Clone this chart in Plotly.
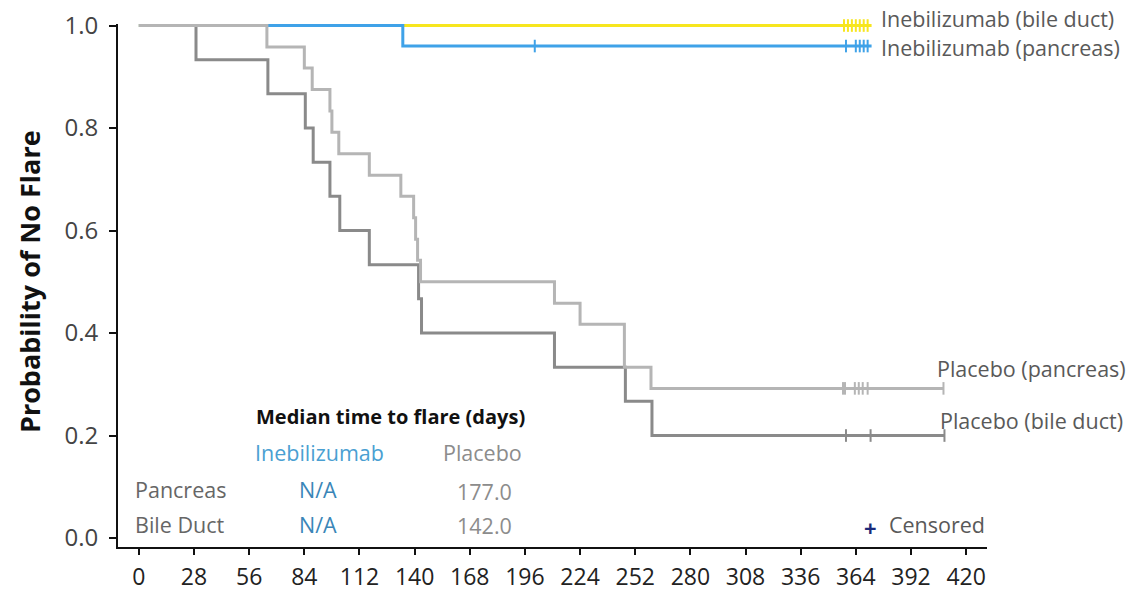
import plotly.graph_objects as go

# Kaplan-Meier step curves: time (days) and probability of no flare
ineb_bile_time = [0, 372]
ineb_bile_surv = [1.0, 1.0]
ineb_bile_censor = [358, 360, 362, 364, 366, 368, 370]

ineb_panc_time = [0, 134, 372]
ineb_panc_surv = [1.0, 0.96, 0.96]
ineb_panc_censor = [201, 359, 364, 366, 368, 370]

plac_panc_time = [0, 65, 84, 88, 97, 98, 101.5, 117, 133, 139.5, 140.5, 141.5, 143,
                  211, 224, 246.5, 260, 408.5]
plac_panc_surv = [1.0, 0.958, 0.917, 0.875, 0.833, 0.792, 0.750, 0.708, 0.667, 0.625,
                  0.583, 0.542, 0.500, 0.458, 0.417, 0.333, 0.292, 0.292]
plac_panc_censor = [357.5, 358.5, 363.5, 365.5, 367.5, 370, 408.5]

plac_bile_time = [0, 29, 65.5, 84.5, 88.5, 97, 102, 117, 142, 143.5, 211, 247, 260.5, 409]
plac_bile_surv = [1.0, 0.933, 0.867, 0.800, 0.733, 0.667, 0.600, 0.533, 0.467, 0.400,
                  0.333, 0.267, 0.200, 0.200]
plac_bile_censor = [359, 371.5, 409]

x_ticks = list(range(0, 421, 28))
y_ticks = [0.0, 0.2, 0.4, 0.6, 0.8, 1.0]

# Median time to flare table
median_groups = ["Inebilizumab", "Placebo"]
median_rows = ["Pancreas", "Bile Duct"]
median_ineb = ["N/A", "N/A"]
median_placebo = [177.0, 142.0]

YELLOW = "#f7e61e"
BLUE = "#3fa2e8"
LIGHT_GRAY = "#b5b5b5"
DARK_GRAY = "#8a8a8a"
TEXT_GRAY = "#595959"
FONT = "Open Sans"
LABEL_SIZE = 21.5


def step_value(times, surv, t):
    v = surv[0]
    for ti, si in zip(times, surv):
        if ti <= t:
            v = si
    return v


fig = go.Figure()

series = [
    (ineb_bile_time, ineb_bile_surv, ineb_bile_censor, YELLOW),
    (ineb_panc_time, ineb_panc_surv, ineb_panc_censor, BLUE),
    (plac_bile_time, plac_bile_surv, plac_bile_censor, DARK_GRAY),
    (plac_panc_time, plac_panc_surv, plac_panc_censor, LIGHT_GRAY),
]

for times, surv, censor, color in series:
    fig.add_trace(go.Scatter(
        x=times, y=surv, mode="lines", line=dict(color=color, width=3, shape="hv"),
        cliponaxis=False, hoverinfo="skip", showlegend=False,
    ))
    fig.add_trace(go.Scatter(
        x=censor, y=[step_value(times, surv, t) for t in censor], mode="markers",
        marker=dict(symbol="line-ns", size=9, line=dict(color=color, width=2)),
        cliponaxis=False, hoverinfo="skip", showlegend=False,
    ))

ann = []


def label(text, x, y, size=LABEL_SIZE, color=TEXT_GRAY, xanchor="left", bold=False, yshift=0):
    ann.append(dict(
        text=f"<b>{text}</b>" if bold else text, x=x, y=y, xref="x", yref="y",
        xanchor=xanchor, yanchor="middle", showarrow=False, yshift=yshift,
        font=dict(family=FONT, size=size, color=color),
    ))


# curve labels
label("Inebilizumab (bile duct)", 376, 1.0, yshift=7)
label("Inebilizumab (pancreas)", 376, 0.958)
label("Placebo (pancreas)", 404, 0.33)
label("Placebo (bile duct)", 405.5, 0.23)

# median table
label("Median time to flare (days)", 128, 0.238, size=20, color="#111111", xanchor="center", bold=True)
label(median_groups[0], 91.6, 0.166, color="#4a9fd2", xanchor="center")
label(median_groups[1], 174.3, 0.166, color="#8c8c8c", xanchor="center")
row_y = [0.094, 0.027]
for i, row in enumerate(median_rows):
    label(row, -3.2, row_y[i], color="#666666")
    label(median_ineb[i], 91.1, row_y[i], color="#3a86b8", xanchor="center")
    label(f"{median_placebo[i]:.1f}", 175.3, row_y[i] - 0.003, color="#8c8c8c", xanchor="center")

# censor key
label("<b>+</b>", 371.6, 0.021, size=22, color="#1b2a7a", xanchor="center")
label("Censored", 379.7, 0.027)

# y-axis title
ann.append(dict(
    text="<b>Probability of No Flare</b>", x=-0.101, y=0.507, xref="paper", yref="paper",
    xanchor="center", yanchor="middle", textangle=-90, showarrow=False,
    font=dict(family=FONT, size=27, color="#111111"),
))

fig.update_layout(
    width=1148, height=593,
    margin=dict(l=118, r=161, t=24, b=46),
    paper_bgcolor="white", plot_bgcolor="white",
    annotations=ann,
    xaxis=dict(
        range=[-10.6, 430.6], tickvals=x_ticks, ticks="outside", ticklen=6, tickwidth=2,
        tickcolor="#111111", showline=True, linewidth=2, linecolor="#111111",
        showgrid=False, zeroline=False, ticklabelstandoff=2, automargin=False,
        tickfont=dict(family=FONT, size=23, color="#222222"),
    ),
    yaxis=dict(
        range=[-0.0175, 1.003], tickvals=y_ticks, ticktext=[f"{v:.1f}" for v in y_ticks],
        ticks="outside", ticklen=7, tickwidth=2, tickcolor="#111111",
        showline=True, linewidth=2, linecolor="#111111",
        showgrid=False, zeroline=False, ticklabelstandoff=6, automargin=False,
        tickfont=dict(family=FONT, size=24, color="#444444"),
    ),
)

fig.write_html("out.html")
